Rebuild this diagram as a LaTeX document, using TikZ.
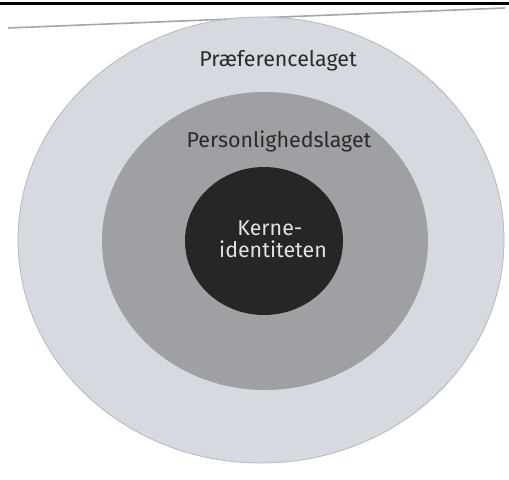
\documentclass[tikz,border=0pt]{standalone}
\usepackage{fontspec}
\setmainfont{Fira Sans}
\usetikzlibrary{shapes.geometric}
\definecolor{outerfill}{HTML}{D5DAE0}
\definecolor{outerline}{HTML}{B4B8BE}
\definecolor{midfill}{HTML}{9EA0A3}
\definecolor{corefill}{HTML}{262626}
\definecolor{labeltext}{HTML}{2A2A2A}
\definecolor{coretext}{HTML}{E2E2E2}
\tikzset{
  layer/.style={ellipse, inner sep=0pt, outer sep=0pt},
  layerlabel/.style={text=labeltext, font=\fontsize{21.5}{24}\selectfont, inner sep=0pt, anchor=base},
  corelabel/.style={text=coretext, font=\fontsize{21.5}{22}\selectfont, inner sep=0pt, anchor=base},
}
\begin{document}
\begin{tikzpicture}[x=1bp, y=-1bp]
  \useasboundingbox[fill=white] (0,0) rectangle (509,480);
  % rules at the top
  \coordinate (blackL) at (0,4);
  \coordinate (blackR) at (509,4);
  \draw[line width=3bp, black] (blackL) -- (blackR);
  \coordinate (grayL) at (8,28);
  \coordinate (grayR) at (505,8);
  \draw[line width=1.6bp, gray!70] (grayL) -- (grayR);
  % layers
  \node[layer, fill=outerfill, draw=outerline, line width=0.8bp,
        minimum width=486bp, minimum height=446bp] (outer) at (261,240) {};
  \node[layer, fill=midfill, minimum width=326bp, minimum height=298bp] (middle) at (265,241) {};
  \node[layer, fill=corefill, minimum width=158bp, minimum height=148bp] (core) at (264,241) {};
  % labels
  \node[layerlabel] (pref) at (278,67) {Præferencelaget};
  \node[layerlabel] (pers) at (279,148) {Personlighedslaget};
  \node[corelabel] (kerne) at (270,235) {Kerne-};
  \node[corelabel] (ident) at (273,257) {identiteten};
\end{tikzpicture}
\end{document}
